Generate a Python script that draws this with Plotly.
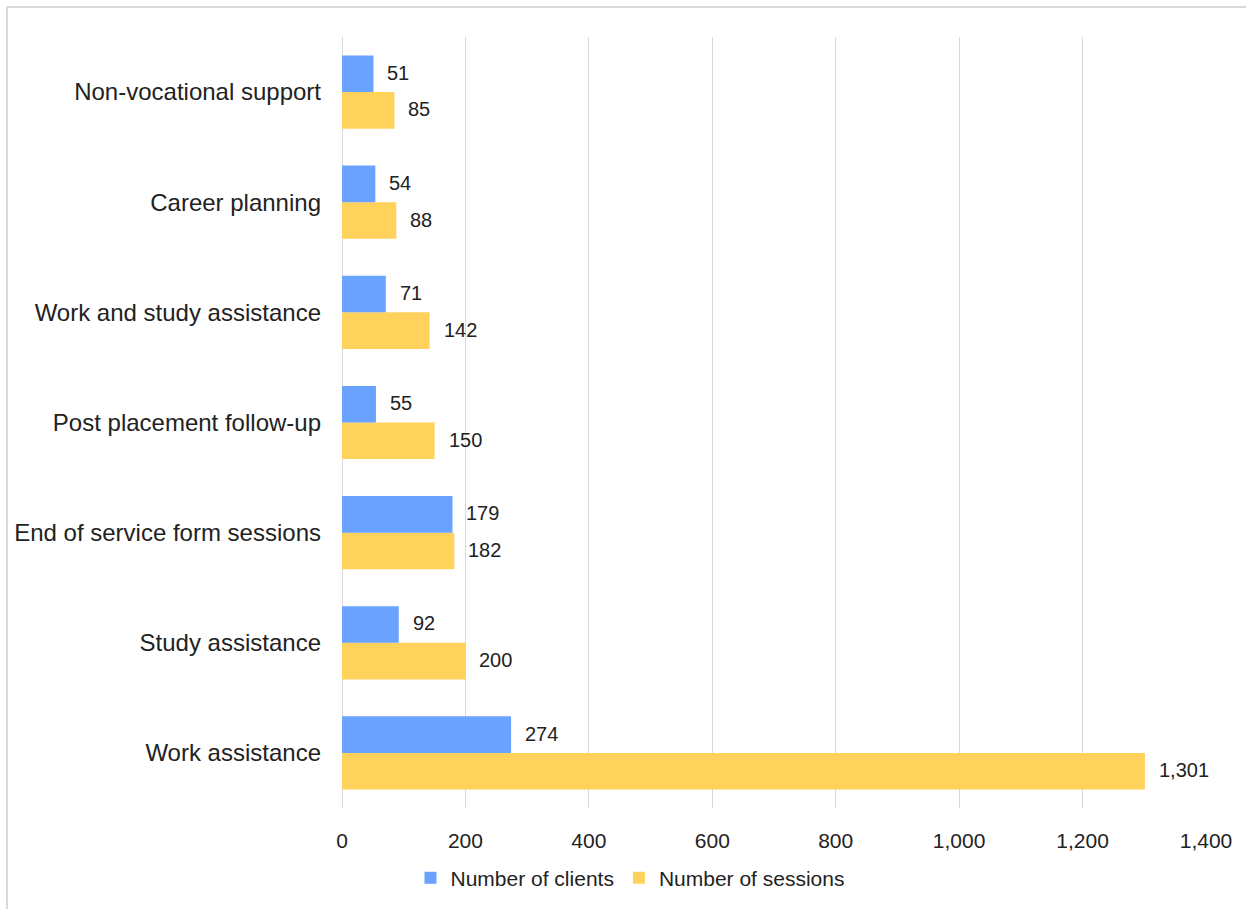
import plotly.graph_objects as go

# Service categories, listed bottom to top as drawn on the axis
categories = [
    "Work assistance",
    "Study assistance",
    "End of service form sessions",
    "Post placement follow-up",
    "Work and study assistance",
    "Career planning",
    "Non-vocational support",
]
clients = [274, 92, 179, 55, 71, 54, 51]
sessions = [1301, 200, 182, 150, 142, 88, 85]
x_ticks = [0, 200, 400, 600, 800, 1000, 1200, 1400]

BLUE = "#6aa2ff"
YELLOW = "#ffd25c"
TEXT = "#222222"
GRID = "#d9d9d9"
FONT = "Liberation Sans"

W, H = 1246, 909
L, R, T, B = 342, 40, 37, 101

fig = go.Figure()
# Sessions trace first so that, within each group, clients sits above sessions
fig.add_trace(go.Bar(
    y=categories, x=sessions, orientation="h", name="Number of sessions",
    marker=dict(color=YELLOW, line=dict(width=0)), legendrank=2,
))
fig.add_trace(go.Bar(
    y=categories, x=clients, orientation="h", name="Number of clients",
    marker=dict(color=BLUE, line=dict(width=0)), legendrank=1,
))

BAR_HALF = 18.3
annotations = []
for cat, c, s in zip(categories, clients, sessions):
    for val, shift in ((c, BAR_HALF + 1), (s, -BAR_HALF + 1)):
        annotations.append(dict(
            x=val, y=cat, xref="x", yref="y", text=f"{val:,}",
            showarrow=False, xanchor="left", yanchor="middle",
            xshift=12, yshift=shift,
            font=dict(family=FONT, size=20, color=TEXT),
        ))

plot_w = W - L - R
plot_h = H - T - B


def px_x(p):
    return (p - L) / plot_w


def px_y(p):
    return (H - B - p) / plot_h


shapes = [
    # chart frame: top and left edges
    dict(type="line", xref="paper", yref="paper",
         x0=px_x(7), x1=px_x(W + 5), y0=px_y(7), y1=px_y(7),
         line=dict(color=GRID, width=2)),
    dict(type="line", xref="paper", yref="paper",
         x0=px_x(7), x1=px_x(7), y0=px_y(7), y1=px_y(H + 5),
         line=dict(color=GRID, width=2)),
]

fig.update_layout(
    width=W, height=H,
    margin=dict(l=L, r=R, t=T, b=B, autoexpand=False),
    paper_bgcolor="white", plot_bgcolor="white",
    barmode="group", bargap=0.335, bargroupgap=0,
    font=dict(family=FONT, size=20, color=TEXT),
    xaxis=dict(
        range=[0, 1400], tickvals=x_ticks, tickformat=",",
        showgrid=True, gridcolor=GRID, gridwidth=1.3,
        zeroline=True, zerolinecolor=GRID, zerolinewidth=1.3,
        showline=False, ticks="", ticklabelstandoff=18,
        tickfont=dict(family=FONT, size=21, color=TEXT),
    ),
    yaxis=dict(
        showgrid=False, zeroline=False, showline=False, ticks="",
        ticklabelstandoff=20,
        tickfont=dict(family=FONT, size=24, color=TEXT),
    ),
    legend=dict(
        orientation="h", xref="container", yref="container",
        x=630 / W, y=1 - 878 / H, xanchor="center", yanchor="middle",
        font=dict(family=FONT, size=21, color=TEXT),
        itemwidth=30, traceorder="normal",
    ),
    annotations=annotations,
    shapes=shapes,
    showlegend=True,
)

fig.write_html("out.html")
